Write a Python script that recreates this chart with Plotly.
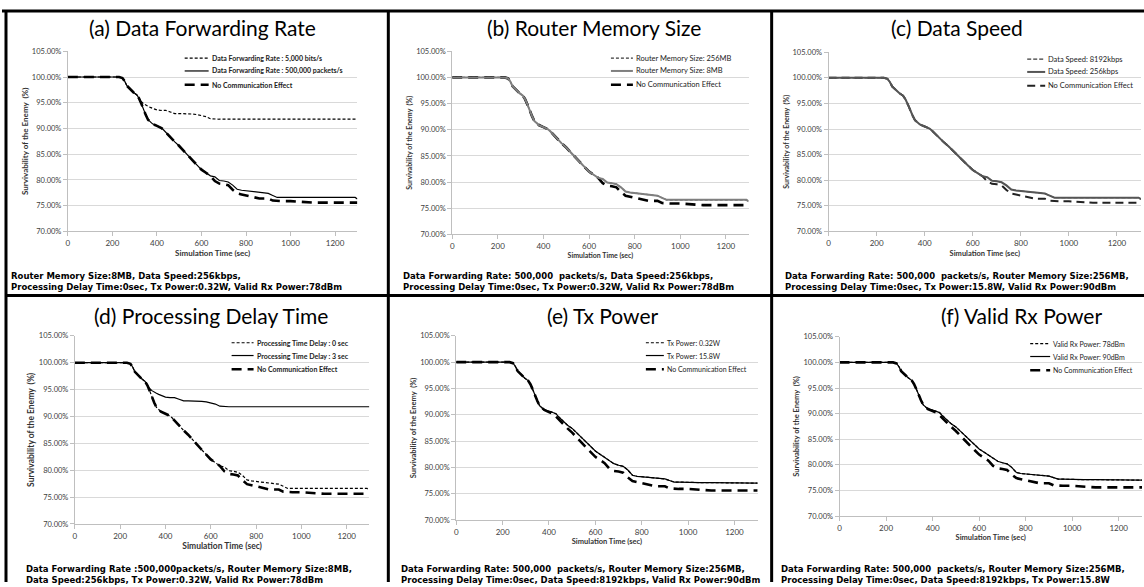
import plotly.graph_objects as go

W, H = 1144, 587

# ---------------- data ----------------
time_s = [0, 100, 200, 230, 245, 255, 265, 280, 295, 310, 320, 330, 340, 350, 360, 370, 380,
          400, 420, 430, 440, 460, 480, 500, 520, 540, 560, 580, 600, 620, 640, 660, 680,
          700, 720, 740, 760, 780, 800, 820, 840, 860, 880, 900, 920, 940, 960, 1000,
          1050, 1100, 1200, 1290, 1300]

no_comm = [100, 100, 100, 100, 99.8, 99.2, 98.3, 97.6, 97.0, 96.5, 95.8, 94.8, 93.6, 92.6, 91.7, 91.2, 90.9,
           90.5, 90.1, 89.7, 89.2, 88.2, 87.4, 86.6, 85.6, 84.8, 83.8, 82.9, 82.0, 81.4, 80.8, 79.8, 79.3,
           79.2, 79.0, 78.1, 77.4, 77.2, 77.0, 76.8, 76.5, 76.4, 76.4, 76.4, 76.0, 75.9, 75.9, 75.9,
           75.7, 75.6, 75.6, 75.6, 75.6]

rate_500k_pps = [100, 100, 100, 100, 99.8, 99.2, 98.3, 97.6, 97.0, 96.5, 95.8, 94.8, 93.6, 92.6, 91.7, 91.2, 90.9,
                 90.5, 90.1, 89.7, 89.2, 88.2, 87.4, 86.6, 85.6, 84.8, 83.8, 82.9, 82.0, 81.4, 80.8, 80.6, 79.9,
                 79.8, 79.6, 79.0, 78.2, 78.0, 77.9, 77.8, 77.6, 77.5, 77.5, 77.4, 77.0, 76.6, 76.6, 76.6,
                 76.6, 76.6, 76.6, 76.6, 76.3]

rate_5000_bps = [100, 100, 100, 100, 99.8, 99.2, 98.3, 97.6, 97.0, 96.5, 95.8, 95.2, 94.8, 94.5, 94.3, 94.1, 93.9,
                 93.6, 93.5, 93.5, 93.5, 93.2, 92.9, 92.9, 92.9, 92.9, 92.8, 92.7, 92.5, 92.3, 91.9, 91.8, 91.8,
                 91.8, 91.8, 91.8, 91.8, 91.8, 91.8, 91.8, 91.8, 91.8, 91.8, 91.8, 91.8, 91.8, 91.8, 91.8,
                 91.8, 91.8, 91.8, 91.8, 91.8]

tx_power_curve = [100, 100, 100, 100, 99.8, 99.2, 98.3, 97.6, 97.0, 96.5, 95.8, 94.8, 93.6, 92.6, 91.7, 91.2, 90.9,
                  90.7, 90.4, 90.2, 89.7, 88.8, 88.0, 87.4, 86.5, 85.8, 84.9, 84.0, 83.1, 82.5, 81.9, 81.3, 80.7,
                  80.4, 80.2, 79.5, 78.5, 78.3, 78.2, 78.1, 78.0, 77.9, 77.8, 77.8, 77.5, 77.2, 77.2, 77.1,
                  77.1, 77.1, 77.1, 77.1, 77.0]

memory_256mb = rate_500k_pps
memory_8mb = rate_500k_pps
speed_8192kbps = rate_500k_pps
speed_256kbps = rate_500k_pps
delay_0s = rate_500k_pps
delay_3s = rate_5000_bps
tx_032w = tx_power_curve
tx_158w = tx_power_curve
rx_78dbm = tx_power_curve
rx_90dbm = tx_power_curve

x_ticks = [0, 200, 400, 600, 800, 1000, 1200]
y_ticks = [70, 75, 80, 85, 90, 95, 100, 105]
y_tick_labels = ["70.00%", "75.00%", "80.00%", "85.00%", "90.00%", "95.00%", "100.00%", "105.00%"]

panel_titles = ["(a) Data Forwarding Rate", "(b) Router Memory Size", "(c) Data Speed",
                "(d) Processing Delay Time", "(e) Tx Power", "(f) Valid Rx Power"]

legend_names = [
    ["Data Forwarding Rate : 5,000 bits/s", "Data Forwarding Rate : 500,000 packets/s", "No Communication Effect"],
    ["Router Memory Size: 256MB", "Router Memory Size: 8MB", "No Communication Effect"],
    ["Data Speed: 8192kbps", "Data Speed: 256kbps", "No Communication Effect"],
    ["Processing Time Delay : 0 sec", "Processing Time Delay : 3 sec", "No Communication Effect"],
    ["Tx Power: 0.32W", "Tx Power: 15.8W", "No Communication Effect"],
    ["Valid Rx Power: 78dBm", "Valid Rx Power: 90dBm", "No Communication Effect"],
]

series_values = [
    (rate_5000_bps, rate_500k_pps, no_comm),
    (memory_256mb, memory_8mb, no_comm),
    (speed_8192kbps, speed_256kbps, no_comm),
    (delay_0s, delay_3s, no_comm),
    (tx_032w, tx_158w, no_comm),
    (rx_78dbm, rx_90dbm, no_comm),
]

captions = [
    "Router Memory Size:8MB, Data Speed:256kbps,<br>Processing Delay Time:0sec, Tx Power:0.32W, Valid Rx Power:78dBm",
    "Data Forwarding Rate: 500,000  packets/s, Data Speed:256kbps,<br>Processing Delay Time:0sec, Tx Power:0.32W, Valid Rx Power:78dBm",
    "Data Forwarding Rate: 500,000  packets/s, Router Memory Size:256MB,<br>Processing Delay Time:0sec, Tx Power:15.8W, Valid Rx Power:90dBm",
    "Data Forwarding Rate :500,000packets/s, Router Memory Size:8MB,<br>Data Speed:256kbps, Tx Power:0.32W, Valid Rx Power:78dBm",
    "Data Forwarding Rate: 500,000  packets/s, Router Memory Size:256MB,<br>Processing Delay Time:0sec, Data Speed:8192kbps, Valid Rx Power:90dBm",
    "Data Forwarding Rate: 500,000  packets/s, Router Memory Size:256MB,<br>Processing Delay Time:0sec, Data Speed:8192kbps, Tx Power:15.8W",
]

# ---------------- layout geometry (pixels) ----------------
# plot areas: x of t=0, x of t=1300, y of 105%, y of 70%
plot_px = [
    (66, 356, 48, 231),
    (451, 748, 48, 234),
    (828, 1141, 49, 231),
    (73, 368, 337, 528),
    (455, 757, 337, 524),
    (839, 1142, 338, 520),
]
title_pos = [(201, 24), (593, 24), (957, 24), (209, 316), (602, 316), (1021, 316)]
caption_pos = [(7, 282), (400, 282), (782, 282), (22, 579), (398, 579), (778, 579)]
legend_px = [(183, 207, 209), (610, 632, 634), (1027, 1045, 1047), (230, 252, 254), (645, 663, 665), (1030, 1050, 1052)]
axis_title_size = [(8, 8), (7, 7), (7, 7.5), (8.5, 8.5), (7.5, 7.5), (7.5, 7.5)]
legend_font = [(7, "bold"), (7.5, "normal"), (7.5, "normal"), (7, "bold"), (7, "normal"), (7, "normal")]

def px(x):
    return x / W

def py(y):
    return 1 - y / H

styles = [
    [dict(color="black", width=1.2, dash="3px,2px"), dict(color="black", width=1.2), dict(color="black", width=2.6, dash="10px,6px")],
    [dict(color="#3a3a3a", width=1.2, dash="3px,2px"), dict(color="#7f7f7f", width=2.0), dict(color="black", width=2.6, dash="10px,6px")],
    [dict(color="#3a3a3a", width=1.2, dash="4px,2px"), dict(color="#555555", width=2.0), dict(color="#222222", width=2.0, dash="8px,5px")],
    [dict(color="black", width=1.2, dash="3px,2px"), dict(color="black", width=1.2), dict(color="black", width=2.6, dash="10px,6px")],
    [dict(color="black", width=1.2, dash="3px,2px"), dict(color="black", width=1.2), dict(color="black", width=2.6, dash="10px,6px")],
    [dict(color="black", width=1.2, dash="3px,2px"), dict(color="black", width=1.2), dict(color="black", width=2.6, dash="10px,6px")],
]

fig = go.Figure()
shapes = []
annotations = []
layout_axes = {}

for i in range(6):
    n = i + 1
    xa = "x" if n == 1 else f"x{n}"
    ya = "y" if n == 1 else f"y{n}"
    x0, x1, y105, y70 = plot_px[i]
    # draw order: no-comm first (underneath), then dashed, then solid
    for k in (2, 0, 1):
        fig.add_trace(go.Scatter(x=time_s, y=series_values[i][k], mode="lines",
                                 line=styles[i][k], name=legend_names[i][k],
                                 xaxis=xa, yaxis=ya, showlegend=False, hoverinfo="skip"))
    ax_title_y, ax_title_x = axis_title_size[i]
    layout_axes["xaxis" if n == 1 else f"xaxis{n}"] = dict(
        domain=[px(x0), px(x1)], range=[0, 1300], anchor=ya,
        tickvals=x_ticks, showgrid=False, zeroline=False,
        showline=True, linecolor="#bfbfbf", linewidth=1,
        ticks="outside", ticklen=4, tickcolor="#bfbfbf",
        tickfont=dict(family="Lato", size=8, color="#404040"),
        title=dict(text="Simulation Time (sec)", standoff=3,
                   font=dict(family="Lato", size=ax_title_x, color="#333333", weight="bold")),
    )
    layout_axes["yaxis" if n == 1 else f"yaxis{n}"] = dict(
        domain=[py(y70), py(y105)], range=[70, 105], anchor=xa,
        tickmode="array", tickvals=y_ticks, ticktext=y_tick_labels,
        showgrid=True, gridcolor="#d9d9d9", gridwidth=1, zeroline=False,
        showline=True, linecolor="#bfbfbf", linewidth=1,
        ticks="outside", ticklen=4, tickcolor="#bfbfbf",
        tickfont=dict(family="Lato", size=7.5, color="#404040"),
        title=dict(text="Survivability of the Enemy  (%)", standoff=2,
                   font=dict(family="Lato", size=ax_title_y, color="#333333", weight="bold")),
    )
    # title
    tx, ty = title_pos[i]
    annotations.append(dict(text=panel_titles[i], x=px(tx), y=py(ty), xref="paper", yref="paper",
                            xanchor="center", yanchor="middle", showarrow=False,
                            font=dict(family="Lato", size=21, color="black")))
    # caption
    cx, cy = caption_pos[i]
    annotations.append(dict(text=captions[i], x=px(cx), y=py(cy), xref="paper", yref="paper",
                            xanchor="left", yanchor="middle", align="left", showarrow=False,
                            font=dict(family="DejaVu Sans", size=8.5, color="black", weight="bold")))
    # legend (drawn inside plot area, top right)
    lx0, lx1, ltx = legend_px[i]
    rows = [y105 + 7, y105 + 20, y105 + 34]
    fsize, fweight = legend_font[i]
    for k in range(3):
        st = styles[i][k]
        shapes.append(dict(type="line", xref="paper", yref="paper",
                           x0=px(lx0), x1=px(lx1), y0=py(rows[k]), y1=py(rows[k]),
                           line=dict(color=st["color"], width=min(st["width"], 2.4),
                                     dash=st.get("dash", "solid"))))
        annotations.append(dict(text=legend_names[i][k], x=px(ltx), y=py(rows[k]), xref="paper", yref="paper",
                                xanchor="left", yanchor="middle", showarrow=False, bgcolor="white",
                                borderpad=0,
                                font=dict(family="Lato", size=fsize, color="#222222", weight=fweight)))

# black panel frame lines
frame = [
    (0, 7, W, 7),        # top
    (4, 7, 4, H),        # left
    (387, 7, 387, H),    # divider 1
    (771, 7, 771, H),    # divider 2
    (3, 296, W, 296),    # middle horizontal
]
for (a, b, c, d) in frame:
    shapes.append(dict(type="line", xref="paper", yref="paper", x0=px(a), y0=py(b), x1=px(c), y1=py(d),
                       line=dict(color="black", width=3)))

fig.update_layout(
    width=W, height=H,
    margin=dict(l=0, r=0, t=0, b=0),
    paper_bgcolor="white", plot_bgcolor="white",
    showlegend=False,
    shapes=shapes, annotations=annotations,
    **layout_axes,
)

fig.write_html("out.html")
